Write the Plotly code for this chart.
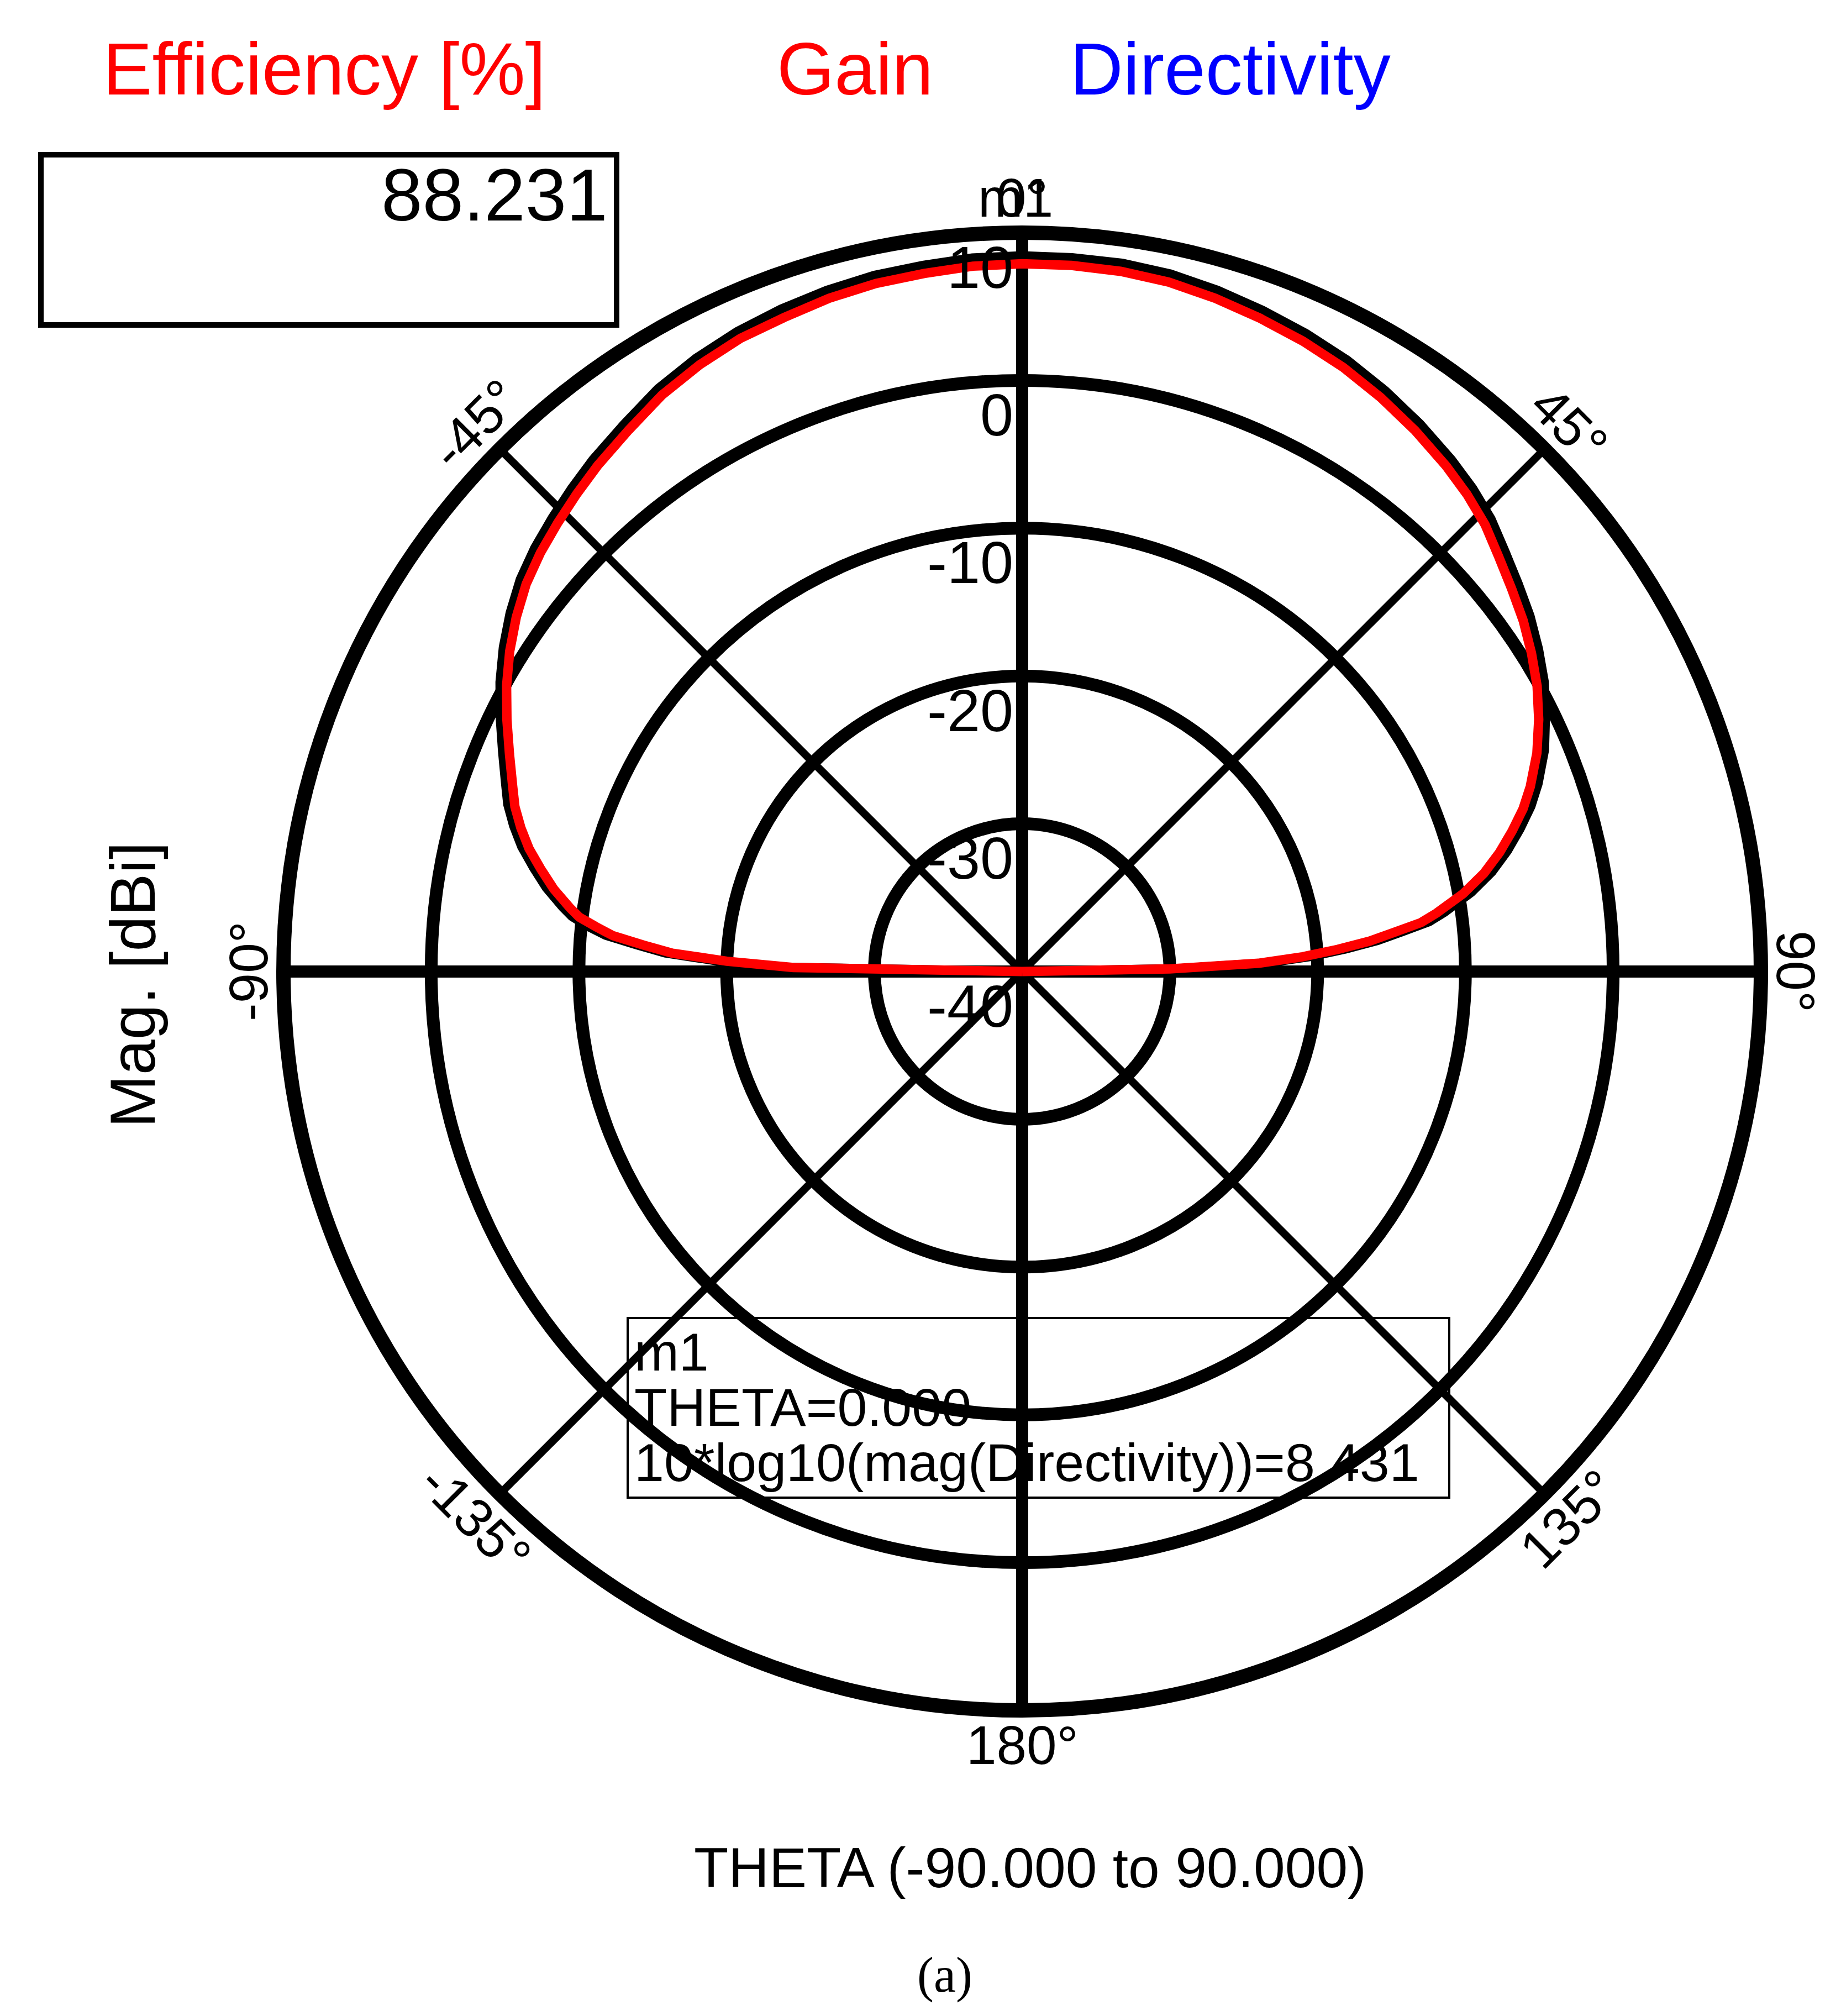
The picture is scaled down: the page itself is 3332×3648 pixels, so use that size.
import math
import plotly.graph_objects as go

# ---------------- data ----------------
theta_deg = [-90, -89, -88, -87, -86, -85, -84, -83, -82, -80, -78, -76, -74, -72, -70,
             -67, -64, -61, -58, -55, -52, -49, -46, -43, -40, -36, -32, -28, -24, -20,
             -16, -12, -8, -4, 0,
             4, 8, 12, 16, 20, 24, 28, 32, 36, 40, 43, 46, 49, 52, 55, 58, 61, 64, 67,
             70, 72, 74, 76, 78, 80, 82, 83, 84, 85, 86, 87, 88, 89, 90]

gain_db = [-40, -24.5, -20.0, -16.3, -14.3, -12.2, -11.0, -9.8, -9.1, -7.8, -6.7, -5.6, -4.7,
           -3.9, -3.3, -2.3, -1.2, -0.1, 0.9, 1.8, 2.6, 3.2, 3.7, 4.2, 4.7, 5.3, 6.0, 6.5,
           6.9, 7.1, 7.4, 7.6, 7.7, 7.85, 7.9,
           7.9, 7.85, 7.7, 7.4, 7.05, 6.7, 6.3, 5.8, 5.25, 4.65, 4.15, 3.55, 2.75, 2.05,
           1.4, 0.65, -0.15, -1.1, -2.15, -3.4, -4.35, -5.5, -6.7, -8.05, -9.7, -11.7,
           -12.8, -14.7, -16.4, -18.6, -21.0, -24.0, -30.0, -40]

directivity_db = [-40, -24.0, -19.4, -15.8, -13.8, -11.7, -10.4, -9.3, -8.6, -7.3, -6.2, -5.1,
                  -4.2, -3.4, -2.8, -1.8, -0.7, 0.4, 1.4, 2.3, 3.1, 3.7, 4.2, 4.7, 5.2, 5.8,
                  6.5, 7.0, 7.4, 7.7, 7.95, 8.15, 8.25, 8.4, 8.43,
                  8.42, 8.4, 8.25, 7.95, 7.6, 7.25, 6.85, 6.35, 5.8, 5.2, 4.7, 4.1, 3.3, 2.6,
                  1.95, 1.2, 0.4, -0.6, -1.6, -2.85, -3.8, -4.95, -6.15, -7.5, -9.15, -11.15,
                  -12.25, -14.15, -15.85, -18.05, -20.45, -23.5, -29.5, -40]

radial_ticks = [-40, -30, -20, -10, 0, 10]
angle_ticks = [0, 45, 90, 135, 180, -135, -90, -45]
angle_labels = ["0°", "45°", "90°", "135°", "180°", "-135°", "-90°", "-45°"]

efficiency_pct = "88.231"
marker_lines = ["m1", "THETA=0.000", "10*log10(mag(Directivity))=8.431"]

# ---------------- layout geometry ----------------
W, H = 3332, 3648
CX, CY, R = 1842, 1750, 1337          # polar centre / radius in page pixels
RMIN, RMAX = radial_ticks[0], radial_ticks[-1]
FONT = "Liberation Sans, Arial, sans-serif"

dom_x = [(CX - R) / W, (CX + R) / W]
dom_y = [(H - CY - R) / H, (H - CY + R) / H]


def px(x):
    return x / W


def py(y):
    return 1 - y / H


fig = go.Figure()

# thick 0/180 and -90/90 axis lines
fig.add_trace(go.Scatterpolar(r=[RMAX, RMIN, RMAX], theta=[0, 0, 180], mode="lines",
                              line=dict(color="black", width=22), hoverinfo="skip",
                              showlegend=False))
fig.add_trace(go.Scatterpolar(r=[RMAX, RMIN, RMAX], theta=[90, 90, -90], mode="lines",
                              line=dict(color="black", width=22), hoverinfo="skip",
                              showlegend=False))

fig.add_trace(go.Scatterpolar(r=directivity_db, theta=theta_deg, mode="lines",
                              name="Directivity", line=dict(color="black", width=17),
                              showlegend=False))
fig.add_trace(go.Scatterpolar(r=gain_db, theta=theta_deg, mode="lines",
                              name="Gain", line=dict(color="#ff0000", width=17),
                              showlegend=False))

fig.update_layout(
    width=W, height=H,
    margin=dict(l=0, r=0, t=0, b=0),
    paper_bgcolor="white",
    showlegend=False,
    polar=dict(
        domain=dict(x=dom_x, y=dom_y),
        bgcolor="white",
        angularaxis=dict(
            rotation=90, direction="clockwise",
            tickmode="array", tickvals=[0, 45, 90, 135, 180, 225, 270, 315],
            showticklabels=False, ticks="",
            showgrid=True, gridcolor="black", gridwidth=14,
            showline=True, linecolor="black", linewidth=26,
        ),
        radialaxis=dict(
            range=[RMIN, RMAX], tickmode="array", tickvals=radial_ticks,
            showticklabels=False, ticks="", showline=False,
            showgrid=True, gridcolor="black", gridwidth=23,
        ),
    ),
)

ann = []

# radial tick labels (left of the vertical axis, just under each ring)
for v in radial_ticks:
    rr = (v - RMIN) / (RMAX - RMIN) * R
    ann.append(dict(x=px(CX - 14), y=py(CY - rr + 62), xref="paper", yref="paper",
                    text=str(v), showarrow=False, xanchor="right", yanchor="middle",
                    font=dict(family=FONT, size=108, color="black")))

# angular labels, tangential
for a, lab in zip(angle_ticks, angle_labels):
    dist = R + 63
    t = math.radians(a)
    x = CX + dist * math.sin(t)
    y = CY - dist * math.cos(t)
    ang = a
    if ang > 90:
        ang -= 180
    elif ang < -90:
        ang += 180
    ann.append(dict(x=px(x), y=py(y), xref="paper", yref="paper", text=lab,
                    showarrow=False, xanchor="center", yanchor="middle", textangle=ang,
                    font=dict(family=FONT, size=98, color="black")))

# marker label at top (overlaps the 0° label, as in the original)
ann.append(dict(x=px(CX - 12), y=py(CY - R - 63), xref="paper", yref="paper", text="m1",
                showarrow=False, xanchor="center", yanchor="middle",
                font=dict(family=FONT, size=98, color="black")))

# titles
ann.append(dict(x=px(176), y=py(116), xref="paper", yref="paper", text="Efficiency [%]",
                showarrow=False, xanchor="left", yanchor="middle",
                font=dict(family=FONT, size=134, color="#ff0000")))
ann.append(dict(x=px(1396), y=py(116), xref="paper", yref="paper", text="Gain",
                showarrow=False, xanchor="left", yanchor="middle",
                font=dict(family=FONT, size=134, color="#ff0000")))
ann.append(dict(x=px(1926), y=py(116), xref="paper", yref="paper", text="Directivity",
                showarrow=False, xanchor="left", yanchor="middle",
                font=dict(family=FONT, size=134, color="#0000ff")))

# efficiency value box
ann.append(dict(x=px(1094), y=py(344), xref="paper", yref="paper", text=efficiency_pct,
                showarrow=False, xanchor="right", yanchor="middle",
                font=dict(family=FONT, size=134, color="black")))

# axis titles
ann.append(dict(x=px(232), y=py(1774), xref="paper", yref="paper", text="Mag. [dBi]",
                showarrow=False, xanchor="center", yanchor="middle", textangle=-90,
                font=dict(family=FONT, size=115, color="black")))
ann.append(dict(x=px(1856), y=py(3372), xref="paper", yref="paper",
                text="THETA (-90.000 to 90.000)", showarrow=False,
                xanchor="center", yanchor="middle",
                font=dict(family=FONT, size=102, color="black")))
ann.append(dict(x=px(1702), y=py(3566), xref="paper", yref="paper", text="(a)",
                showarrow=False, xanchor="center", yanchor="middle",
                font=dict(family="Liberation Serif, Times New Roman, serif", size=90,
                          color="black")))

# marker readout box text
for i, line in enumerate(marker_lines):
    ann.append(dict(x=px(1138), y=py(2438 + 100 * i), xref="paper", yref="paper",
                    text=line, showarrow=False, xanchor="left", yanchor="middle",
                    font=dict(family=FONT, size=97, color="black")))

fig.update_layout(annotations=ann)

fig.update_layout(shapes=[
    dict(type="rect", xref="paper", yref="paper", x0=px(66), x1=px(1108),
         y0=py(580), y1=py(272), line=dict(color="black", width=10),
         fillcolor="rgba(0,0,0,0)"),
    dict(type="rect", xref="paper", yref="paper", x0=px(1128), x1=px(2615),
         y0=py(2702), y1=py(2377), line=dict(color="black", width=4),
         fillcolor="rgba(0,0,0,0)", layer="above"),
])

fig.write_html("out.html")
